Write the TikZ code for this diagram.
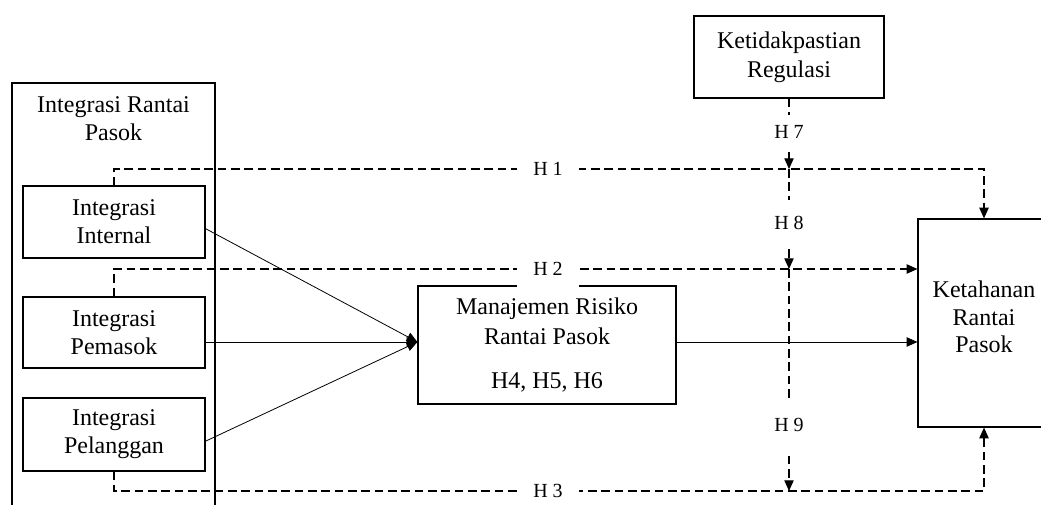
\documentclass[tikz,border=0pt]{standalone}
\usepackage{fontspec}
\setmainfont{Liberation Serif}
\usetikzlibrary{arrows.meta}
\begin{document}
\begin{tikzpicture}[x=0.75pt,y=-0.75pt,
  box/.style={draw,line width=0.9pt,align=center,inner sep=0pt,
    font=\fontsize{18}{21}\selectfont},
  lbl/.style={fill=white,inner sep=0pt,font=\fontsize{15}{17}\selectfont},
  solidarrow/.style={line width=0.6pt,-{Triangle[length=8pt,width=7pt]}},
  dashedline/.style={line width=0.8pt,dash pattern=on 6.5pt off 3.5pt},
  dashedarrow/.style={dashedline,-{Triangle[length=8pt,width=7pt]}}]
\clip (0,0) rectangle (1041,505);
\fill[white] (0,0) rectangle (1041,505);
% boxes
\node[box,minimum width=152.25pt,minimum height=335.25pt] (outer) at (113.5,306.5) {};
\node[align=center,font=\fontsize{18}{21}\selectfont] (outerlbl) at (113.5,119) {Integrasi Rantai\\Pasok};
\node[box,minimum width=136.5pt,minimum height=54pt] (int) at (114,222) {Integrasi\\Internal};
\node[box,minimum width=136.5pt,minimum height=53.25pt] (pem) at (114,332.5) {Integrasi\\Pemasok};
\node[box,minimum width=136.5pt,minimum height=54.75pt] (pel) at (114,434.5) {Integrasi\\Pelanggan};
\node[box,minimum width=193.5pt,minimum height=88.5pt,font=\fontsize{18}{22}\selectfont] (mrp) at (547,345) {Manajemen Risiko\\Rantai Pasok\\[11pt]H4, H5, H6};
\node[box,minimum width=99pt,minimum height=156pt] (ket) at (984,323) {};
\node[align=center,font=\fontsize{18}{20.5}\selectfont] (kettxt) at (984,317) {Ketahanan\\Rantai\\Pasok};
\node[box,minimum width=142.5pt,minimum height=61.5pt,font=\fontsize{18}{22}\selectfont] (kr) at (789,57) {Ketidakpastian\\Regulasi};
% lanes
\coordinate (l1) at (548,169);
\coordinate (l2) at (548,269);
\coordinate (l3) at (548,491);
\coordinate (tip) at ([yshift=2.25pt]mrp.west);
% solid connectors
\draw[solidarrow] ([yshift=-5pt]int.east) -- (tip);
\draw[solidarrow] (pem.east |- tip) -- (tip);
\draw[solidarrow] ([yshift=-5pt]pel.east) -- (tip);
\draw[solidarrow] (mrp.east |- tip) -- (ket.west |- tip);
% dashed connectors
\draw[dashedarrow] (int.north) |- (l1) -| (ket.north);
\draw[dashedarrow] (pem.north) |- (ket.west |- l2);
\draw[dashedarrow] (pel.south) |- (l3) -| (ket.south);
\draw[dashedarrow] (kr.south) -- (kr.south |- l1);
\draw[dashedarrow] (kr.south |- l1) -- (kr.south |- l2);
\draw[dashedarrow] (kr.south |- l2) -- (kr.south |- l3);
% labels
\node[lbl,minimum width=46.5pt,minimum height=28.5pt] (h1) at (l1) {H 1};
\node[lbl,minimum width=46.5pt,minimum height=28.5pt] (h2) at (l2) {H 2};
\node[lbl,minimum width=46.5pt,minimum height=28.5pt] (h3) at (l3) {H 3};
\node[lbl,minimum height=26pt] (h7) at (kr.south |- 0,132) {H 7};
\node[lbl,minimum height=34pt] (h8) at (kr.south |- 0,223) {H 8};
\node[lbl,minimum height=39pt] (h9) at (kr.south |- 0,425) {H 9};
\end{tikzpicture}
\end{document}
